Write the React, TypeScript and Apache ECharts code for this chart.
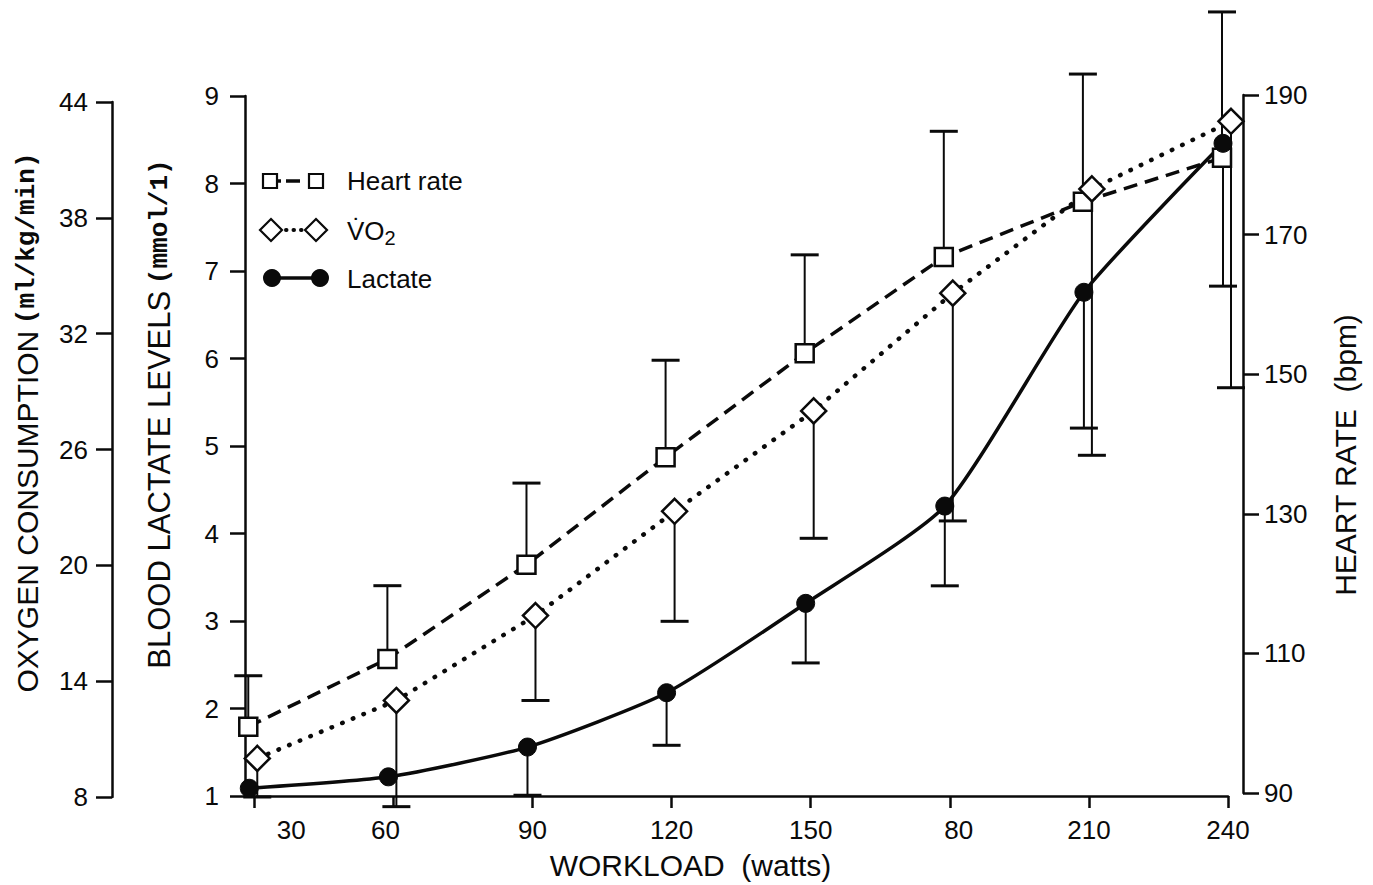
import React, { useEffect, useRef } from "react";
import * as echarts from "echarts";

// ---- data ----
const workload = [30, 60, 90, 120, 150, 180, 210, 240];
const workloadLabels = ["30", "60", "90", "120", "150", "80", "210", "240"];

const heartRate = [99.5, 109.2, 122.7, 138.1, 153.0, 166.8, 174.7, 181.0];
const heartRateUpper = [106.8, 119.7, 134.4, 152.0, 167.1, 184.8, 193.0, 201.9];

const vo2 = [10.0, 13.0, 17.4, 22.8, 28.0, 34.1, 39.5, 43.0];
const vo2Lower = [8.0, 7.5, 13.0, 17.1, 21.4, 22.3, 25.7, 29.2];

const lactate = [1.1, 1.23, 1.57, 2.19, 3.21, 4.32, 6.76, 8.46];
const lactateLower: (number | null)[] = [null, null, 1.02, 1.59, 2.53, 3.41, 5.21, 6.83];

const oxygenTicks = [8, 14, 20, 26, 32, 38, 44];
const lactateTicks = [1, 2, 3, 4, 5, 6, 7, 8, 9];
const hrTicks = [90, 110, 130, 150, 170, 190];

const SANS = "Liberation Sans, Arial, Helvetica, sans-serif";
const MONO = "Liberation Mono, Courier New, monospace";
const INK = "#0a0a0a";

function errorBarRender(params: any, api: any) {
  const x = api.value(0);
  const y = api.value(1);
  const e = api.value(2);
  const p = api.coord([x, y]);
  const q = api.coord([x, e]);
  return {
    type: "group",
    children: [
      {
        type: "line",
        shape: { x1: p[0], y1: p[1], x2: q[0], y2: q[1] },
        style: { stroke: INK, lineWidth: 2 },
      },
      {
        type: "line",
        shape: { x1: q[0] - 14, y1: q[1], x2: q[0] + 14, y2: q[1] },
        style: { stroke: INK, lineWidth: 3 },
      },
    ],
  };
}

export default function App() {
  const ref = useRef<HTMLDivElement>(null);

  useEffect(() => {
    if (!ref.current) return;
    const chart = echarts.init(ref.current, undefined, { renderer: "svg" });

    const axisLine = { show: true, onZero: false, lineStyle: { color: INK, width: 2.5 } };
    const axisTickOut = (len: number) => ({ show: true, inside: false, length: len, lineStyle: { color: INK, width: 2.5 } });
    const tickLabel = { color: INK, fontSize: 26, fontFamily: SANS };

    const hrPts = workload.map((w, i) => [w, heartRate[i]]);
    const vo2Pts = workload.map((w, i) => [w, vo2[i]]);
    const lacPts = workload.map((w, i) => [w, lactate[i]]);
    const hrErr = workload.map((w, i) => [w, heartRate[i], heartRateUpper[i]]);
    const vo2Err = workload.map((w, i) => [w, vo2[i], vo2Lower[i]]);
    const lacErr = workload
      .map((w, i) => [w, lactate[i], lactateLower[i]])
      .filter((d) => d[2] !== null);

    const hiddenX = (gi: number) => ({ type: "value", gridIndex: gi, min: 28, max: 240, show: false });

    const option: any = {
      animation: false,
      backgroundColor: "#fff",
      textStyle: { fontFamily: SANS },
      grid: [
        { left: 245, right: 145, top: 96, bottom: 88 }, // lactate axis + x axis
        { left: 248, right: 142, top: 102, bottom: 88 }, // VO2
        { left: 239, right: 151, top: 95, bottom: 92 }, // HR
        { left: 240, right: 150, top: 96, bottom: 88 }, // lactate series
      ],
      xAxis: [
        {
          type: "value",
          gridIndex: 0,
          min: 28,
          max: 240,
          axisLine,
          splitLine: { show: false },
          axisTick: { ...axisTickOut(12), customValues: workload },
          axisLabel: {
            ...tickLabel,
            margin: 21,
            customValues: workload,
            formatter: (v: number) => {
              const i = workload.indexOf(v);
              const t = workloadLabels[i];
              if (v === 30) return "{r|" + t + "}";
              if (v === 60) return "{l|" + t + "}";
              if (v === 180) return "{r2|" + t + "}";
              return t;
            },
            rich: {
              r: { fontSize: 26, fontFamily: SANS, color: INK, padding: [0, 0, 0, 74] },
              l: { fontSize: 26, fontFamily: SANS, color: INK, padding: [0, 16, 0, 0] },
              r2: { fontSize: 26, fontFamily: SANS, color: INK, padding: [0, 0, 0, 18] },
            },
          },
          name: "WORKLOAD  (watts)",
          nameLocation: "middle",
          nameGap: 54,
          nameTextStyle: { color: INK, fontSize: 30, fontFamily: SANS, padding: [0, 92, 0, 0] },
        },
        hiddenX(1),
        hiddenX(2),
        hiddenX(3),
      ],
      yAxis: [
        {
          type: "value",
          gridIndex: 0,
          position: "left",
          min: 1,
          max: 9,
          interval: 1,
          axisLine,
          splitLine: { show: false },
          axisTick: { ...axisTickOut(15), customValues: lactateTicks },
          axisLabel: { ...tickLabel, margin: 26, customValues: lactateTicks },
          name: "{a|BLOOD LACTATE LEVELS}  {b|(mmol/1)}",
          nameLocation: "middle",
          nameRotate: 90,
          nameGap: 70,
          nameTextStyle: {
            color: INK,
            padding: [0, 0, 0, 64],
            rich: {
              a: { fontSize: 31, fontFamily: SANS, color: INK },
              b: { fontSize: 26, fontFamily: MONO, fontWeight: "bold", color: INK },
            },
          },
        },
        {
          type: "value",
          gridIndex: 1,
          position: "left",
          offset: 136,
          min: 8,
          max: 44,
          interval: 6,
          axisLine,
          splitLine: { show: false },
          axisTick: { ...axisTickOut(16), customValues: oxygenTicks },
          axisLabel: { ...tickLabel, margin: 24, customValues: oxygenTicks },
          name: "{a|OXYGEN CONSUMPTION}  {b|(ml/kg/min)}",
          nameLocation: "middle",
          nameRotate: 90,
          nameGap: 70,
          nameTextStyle: {
            color: INK,
            padding: [0, 0, 0, 54],
            rich: {
              a: { fontSize: 30, fontFamily: SANS, color: INK },
              b: { fontSize: 26, fontFamily: MONO, fontWeight: "bold", color: INK },
            },
          },
        },
        {
          type: "value",
          gridIndex: 2,
          position: "right",
          offset: 21,
          min: 90,
          max: 190,
          interval: 20,
          axisLine,
          splitLine: { show: false },
          axisTick: { ...axisTickOut(16), customValues: hrTicks },
          axisLabel: { ...tickLabel, margin: 21, customValues: hrTicks },
          name: "HEART RATE  (bpm)",
          nameLocation: "middle",
          nameRotate: 90,
          nameGap: 87,
          nameTextStyle: { color: INK, fontSize: 30, fontFamily: SANS, padding: [0, 22, 0, 0] },
        },
        { type: "value", gridIndex: 3, min: 1, max: 9, show: false },
      ],
      series: [
        {
          type: "custom",
          name: "HR error",
          xAxisIndex: 2,
          yAxisIndex: 2,
          renderItem: errorBarRender,
          data: hrErr,
          clip: false,
          z: 1,
        },
        {
          type: "custom",
          name: "VO2 error",
          xAxisIndex: 1,
          yAxisIndex: 1,
          renderItem: errorBarRender,
          data: vo2Err,
          clip: false,
          z: 1,
        },
        {
          type: "custom",
          name: "Lactate error",
          xAxisIndex: 3,
          yAxisIndex: 3,
          renderItem: errorBarRender,
          data: lacErr,
          clip: false,
          z: 1,
        },
        {
          type: "line",
          name: "Heart rate",
          xAxisIndex: 2,
          yAxisIndex: 2,
          data: hrPts,
          symbol: "rect",
          symbolSize: 18,
          showAllSymbol: true,
          itemStyle: { color: "#fff", borderColor: INK, borderWidth: 2.5 },
          lineStyle: { color: INK, width: 3.5, type: [14, 8] },
          clip: false,
          z: 3,
        },
        {
          type: "line",
          name: "VO2",
          xAxisIndex: 1,
          yAxisIndex: 1,
          data: vo2Pts,
          symbol: "diamond",
          symbolSize: [25, 25],
          itemStyle: { color: "#fff", borderColor: INK, borderWidth: 2.5 },
          lineStyle: { color: INK, width: 4.5, type: [0.5, 11], cap: "round" },
          clip: false,
          z: 3,
        },
        {
          type: "line",
          name: "Lactate",
          xAxisIndex: 3,
          yAxisIndex: 3,
          data: lacPts,
          symbol: "circle",
          symbolSize: 18,
          smooth: 0.2,
          itemStyle: { color: INK, borderColor: INK, borderWidth: 1 },
          lineStyle: { color: INK, width: 3.5 },
          clip: false,
          z: 3,
        },
      ],
      graphic: [
        // Heart rate legend
        { type: "line", shape: { x1: 278, y1: 181, x2: 309, y2: 181 }, style: { stroke: INK, lineWidth: 3.5, lineDash: [3, 5, 14, 30] } },
        { type: "rect", shape: { x: 263, y: 174, width: 14, height: 14 }, style: { fill: "#fff", stroke: INK, lineWidth: 2.2 } },
        { type: "rect", shape: { x: 309, y: 174, width: 14, height: 14 }, style: { fill: "#fff", stroke: INK, lineWidth: 2.2 } },
        { type: "text", x: 347, y: 181, style: { text: "Heart rate", fontSize: 26, fontFamily: SANS, fill: INK, verticalAlign: "middle" } },
        // VO2 legend
        { type: "line", shape: { x1: 286, y1: 230, x2: 302, y2: 230 }, style: { stroke: INK, lineWidth: 4, lineDash: [0.5, 7], lineCap: "round" } },
        { type: "polygon", shape: { points: [[271, 219], [282, 230], [271, 241], [260, 230]] }, style: { fill: "#fff", stroke: INK, lineWidth: 2.2 } },
        { type: "polygon", shape: { points: [[316, 219], [327, 230], [316, 241], [305, 230]] }, style: { fill: "#fff", stroke: INK, lineWidth: 2.2 } },
        {
          type: "text",
          x: 347,
          y: 231,
          style: {
            text: "{v|V\u0307O}{s|2}",
            fill: INK,
            verticalAlign: "middle",
            rich: {
              v: { fontSize: 26, fontFamily: SANS, fill: INK },
              s: { fontSize: 20, fontFamily: SANS, fill: INK, padding: [14, 0, 0, 0] },
            },
          },
        },
        // Lactate legend
        { type: "line", shape: { x1: 272, y1: 278, x2: 320, y2: 278 }, style: { stroke: INK, lineWidth: 3.5 } },
        { type: "circle", shape: { cx: 272, cy: 278, r: 9 }, style: { fill: INK } },
        { type: "circle", shape: { cx: 320, cy: 278, r: 9 }, style: { fill: INK } },
        { type: "text", x: 347, y: 279, style: { text: "Lactate", fontSize: 26, fontFamily: SANS, fill: INK, verticalAlign: "middle" } },
      ],
    };

    chart.setOption(option);
    return () => chart.dispose();
  }, []);

  return (
    <div
      ref={ref}
      style={{ position: "fixed", left: 0, top: 0, width: 1373, height: 885, background: "#fff" }}
    />
  );
}
